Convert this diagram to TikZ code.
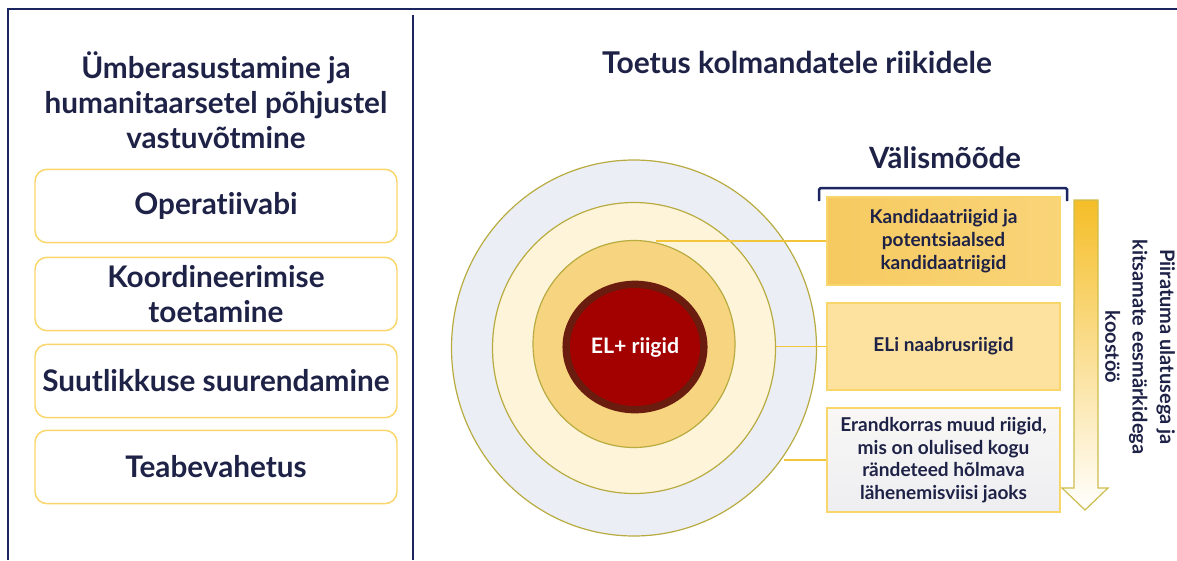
\documentclass[tikz,border=0pt]{standalone}
\usepackage{fontspec}
\setmainfont{Lato}[Ligatures=NoCommon]
\usepackage{tikz}
\usetikzlibrary{positioning,shapes.geometric}

\definecolor{navy}{HTML}{1E2246}
\definecolor{framenavy}{HTML}{1B2660}
\definecolor{boxgold}{HTML}{F8D66A}
\definecolor{ringline}{HTML}{B8AB40}
\definecolor{linegold}{HTML}{F3C53A}
\definecolor{arrline}{HTML}{CDBD4E}
\definecolor{arrgold}{HTML}{F5BE28}
\definecolor{outerfill}{HTML}{ECEEF5}
\definecolor{midfill}{HTML}{FDF4DA}
\definecolor{innerfill}{HTML}{F7D580}
\definecolor{corered}{HTML}{A30000}
\definecolor{coreedge}{HTML}{6A1C0E}
\definecolor{candleft}{HTML}{F6CA60}
\definecolor{candright}{HTML}{F9D478}
\definecolor{neighfill}{HTML}{FCE29E}
\definecolor{othertop}{HTML}{F8F7F5}
\definecolor{otherbottom}{HTML}{EEEEF2}

\begin{document}
\begin{tikzpicture}[x=0.75pt,y=-0.75pt,
  lbox/.style={draw=boxgold, line width=1.1pt, rounded corners=9pt, fill=white,
    minimum width=271.5pt, minimum height=55pt, align=center, text=navy,
    font=\fontsize{22.3}{26}\selectfont\bfseries},
  rbox/.style={draw=boxgold, line width=1.3pt, minimum width=174.75pt,
    align=center, text=navy, font=\fontsize{14.3}{17}\selectfont\bfseries},
  ring/.style={ellipse, draw=ringline, line width=0.9pt},
  link/.style={draw=linegold, line width=0.9pt}]
\useasboundingbox (0,0) rectangle (1177,560);

% frame
\draw[framenavy, line width=2.2pt] (8,560) -- (8,9) -- (1177,9);
\draw[framenavy, line width=2.2pt] (413,15) -- (413,560);

% left panel
\node[align=center, text=navy, font=\fontsize{22.3}{26.3}\selectfont\bfseries] at (216,100) (ltitle)
  {Ümberasustamine ja\\humanitaarsetel põhjustel\\vastuvõtmine};
\node[lbox] at (216,206) (ops) {Operatiivabi};
\node[lbox] at (216,294) (coord) {Koordineerimise\\toetamine};
\node[lbox] at (216,381) (capac) {Suutlikkuse suurendamine};
\node[lbox] at (216,467) (info) {Teabevahetus};

% right panel
\node[text=navy, font=\fontsize{22.5}{26}\selectfont\bfseries] at (797,62) (rtitle)
  {Toetus kolmandatele riikidele};

\node[ring, fill=outerfill, minimum width=273.75pt, minimum height=282pt] at (634,348) (ring1) {};
\node[ring, fill=midfill, minimum width=212.25pt, minimum height=218.25pt] at (634,348) (ring2) {};
\node[ring, fill=innerfill, minimum width=151.5pt, minimum height=155.25pt] at (634,344) (ring3) {};
\node[ellipse, draw=coreedge, line width=5.5pt, fill=corered,
  minimum width=98pt, minimum height=94pt, text=white, font=\fontsize{16}{19}\selectfont\bfseries]
  at (635,347) (core) {EL+ riigid};

\node[text=navy, font=\fontsize{22}{26}\selectfont\bfseries] at (945,158) (ext) {Välismõõde};

\node[rbox, minimum height=66pt, left color=candleft, right color=candright]
  at (943.5,241) (cand) {Kandidaatriigid ja\\potentsiaalsed\\kandidaatriigid};
\node[rbox, minimum height=65.25pt, fill=neighfill]
  at (943.5,346.5) (neigh) {ELi naabrusriigid};
\node[rbox, minimum height=78pt, top color=othertop, bottom color=otherbottom]
  at (943.5,460) (other) {Erandkorras muud riigid,\\mis on olulised kogu\\rändeteed hõlmava\\lähenemisviisi jaoks};

% bracket over the boxes
\draw[framenavy, line width=1.8pt, rounded corners=1pt]
  ([xshift=-5.25pt,yshift=-3.75pt]cand.north west) -- ++(0,9.75pt) -- ++(186pt,0) -- ++(0,-9.75pt);

% links from rings to boxes
\draw[link] (cand.west) -- (cand.west -| ring3.78);
\draw[link] (neigh.west) -- (neigh.west -| ring2.east);
\draw[link] (other.west) -- (other.west -| ring1.-36);

% arrow
\shade[top color=arrgold, bottom color=white, draw=arrline, line width=0.9pt]
  (1074,200) -- (1098,200) -- (1098,488) -- (1108,488) -- (1085,510) -- (1062,488) -- (1074,488) -- cycle;

\node[rotate=-90, align=center, text=navy, font=\fontsize{15}{20.5}\selectfont\bfseries] at (1140,347) (scope)
  {Piiratuma ulatusega ja\\kitsamate eesmärkidega\\koostöö};
\end{tikzpicture}
\end{document}
